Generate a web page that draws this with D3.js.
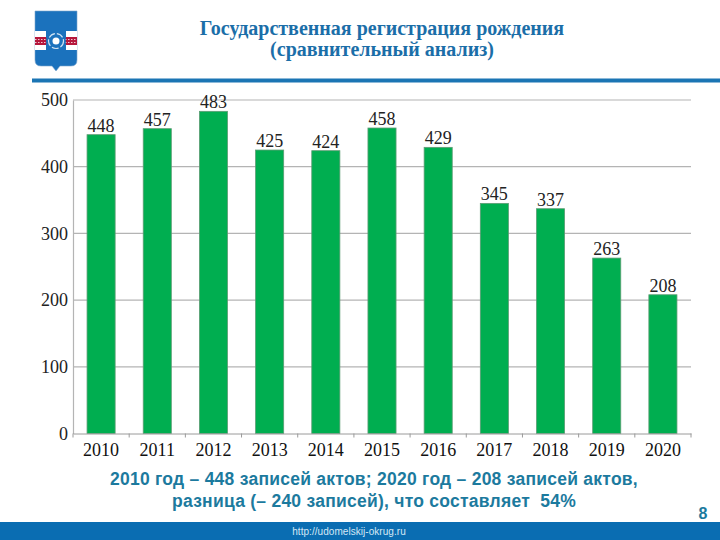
<!DOCTYPE html>
<html><head><meta charset="utf-8">
<script src="https://cdnjs.cloudflare.com/ajax/libs/d3/7.8.5/d3.min.js"></script>
<style>html,body{margin:0;padding:0;background:#fff}svg{display:block}text{white-space:pre}</style></head>
<body><svg id="c" width="720" height="540"></svg>
<script>
const years=["2010","2011","2012","2013","2014","2015","2016","2017","2018","2019","2020"];
const births=[448,457,483,425,424,458,429,345,337,263,208];
const yTicks=[0,100,200,300,400,500];
const titleLines=["Государственная регистрация рождения","(сравнительный анализ)"];
const noteLines=["2010 год – 448 записей актов; 2020 год – 208 записей актов,","разница (– 240 записей), что составляет  54%"];
const svg=d3.select("#c");
const x=d3.scaleBand().domain(years).range([73,691]).paddingInner(0.5).paddingOuter(0.25);
const y=d3.scaleLinear().domain([0,500]).range([433.5,100]);
const serif="'Liberation Serif',serif", sans="'Liberation Sans',Arial,sans-serif";
// header rule and footer
svg.append("rect").attr("x",32).attr("y",78.5).attr("width",688).attr("height",4).attr("fill","#1b75b4");
svg.append("rect").attr("x",0).attr("y",522).attr("width",720).attr("height",18).attr("fill","#0a6db2");
// emblem
const e=svg.append("g");
e.append("path").attr("d","M35 11H77V60Q77 66 71 66H60L56 71L52 66H41Q35 66 35 60Z").attr("fill","#1b72bd").attr("stroke","#7da6cc").attr("stroke-width",0.6);
e.append("rect").attr("x",35).attr("y",31).attr("width",42).attr("height",19).attr("fill","#fff");
e.append("rect").attr("x",35).attr("y",37).attr("width",42).attr("height",8).attr("fill","#b5173c");
e.append("line").attr("x1",35).attr("x2",77).attr("y1",39.5).attr("y2",39.5).attr("stroke","#f0c8d0").attr("stroke-width",1).attr("stroke-dasharray","1.5 1.5");
e.append("line").attr("x1",35).attr("x2",77).attr("y1",42.5).attr("y2",42.5).attr("stroke","#f0c8d0").attr("stroke-width",1).attr("stroke-dasharray","1.5 1.5");
e.append("circle").attr("cx",56).attr("cy",41).attr("r",10).attr("fill","#1b72bd");
e.append("path").attr("d","M46 31H66V38L63 41L66 44V51H46V44L49 41L46 38Z").attr("fill","#1b72bd");
e.append("circle").attr("cx",56).attr("cy",41).attr("r",7.5).attr("fill","none").attr("stroke","#cfe2f2").attr("stroke-width",1.2).attr("stroke-dasharray","7 2");
e.append("circle").attr("cx",56).attr("cy",41).attr("r",3.5).attr("fill","#fff");
// title
svg.append("g").selectAll("text").data(titleLines).join("text")
 .attr("x",382).attr("y",(d,i)=>35+i*20.5).attr("text-anchor","middle")
 .attr("font-family",serif).attr("font-weight","bold").attr("font-size",20).attr("fill","#1b6ea8").text(d=>d);
// grid
svg.append("g").selectAll("line").data(yTicks.filter(d=>d>0)).join("line")
 .attr("x1",73).attr("x2",691).attr("y1",d=>y(d)).attr("y2",d=>y(d)).attr("stroke","#b4b4b4").attr("stroke-width",1.2);
// bars
svg.append("g").selectAll("rect").data(births).join("rect")
 .attr("x",(d,i)=>x(years[i])).attr("width",x.bandwidth())
 .attr("y",d=>y(d)).attr("height",d=>y(0)-y(d))
 .attr("fill","#00ae50").attr("stroke","#5d9c74").attr("stroke-width",0.8);
// axes
const ya=d3.axisLeft(y).tickValues(yTicks).tickSize(0).tickPadding(5);
const gy=svg.append("g").attr("transform","translate(73,0)").call(ya);
gy.select(".domain").attr("stroke","#b4b4b4").attr("stroke-width",1.2);
gy.selectAll("text").attr("font-family",serif).attr("font-size",18).attr("fill","#222");
const xa=d3.axisBottom(x).tickSize(0).tickPadding(10);
const gx=svg.append("g").attr("transform","translate(0,433.5)").call(xa);
gx.select(".domain").attr("stroke","#9a9a9a").attr("stroke-width",1);
gx.selectAll("text").attr("font-family",serif).attr("font-size",18).attr("fill","#111");
const step=x.step();
gx.append("g").selectAll("line").data(d3.range(years.length+1)).join("line")
 .attr("x1",d=>73+d*step).attr("x2",d=>73+d*step).attr("y1",0).attr("y2",4).attr("stroke","#9a9a9a");
// labels
svg.append("g").selectAll("text").data(births).join("text")
 .attr("x",(d,i)=>x(years[i])+x.bandwidth()/2).attr("y",d=>y(d)-3).attr("text-anchor","middle")
 .attr("font-family",serif).attr("font-size",18).attr("fill","#222").text(d=>d);
// note
svg.append("g").selectAll("text").data(noteLines).join("text")
 .attr("x",374).attr("y",(d,i)=>485+i*21.5).attr("text-anchor","middle")
 .attr("font-family",sans).attr("font-weight","bold").attr("font-size",17.5).attr("letter-spacing",0.25).attr("fill","#1c7a9e").text(d=>d);
svg.append("text").attr("x",703).attr("y",519).attr("text-anchor","middle").attr("font-family",sans).attr("font-weight","bold").attr("font-size",16).attr("fill","#1c7a9e").text("8");
svg.append("text").attr("x",349).attr("y",535).attr("text-anchor","middle").attr("font-family",sans).attr("font-size",10).attr("letter-spacing",0.05).attr("fill","#d5e8f5").text("http://udomelskij-okrug.ru");
</script></body></html>
